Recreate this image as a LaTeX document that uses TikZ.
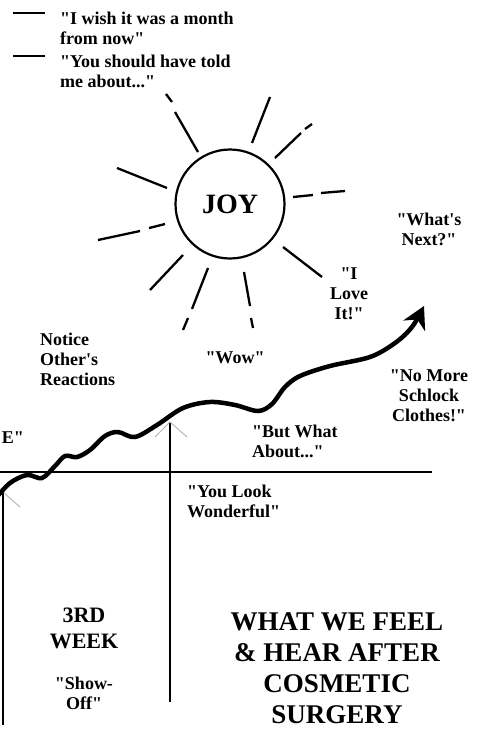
\documentclass[tikz,border=0pt]{standalone}
\usepackage{fontspec}
\setmainfont{Liberation Serif}[Ligatures=TeXOff]
\usetikzlibrary{arrows.meta, positioning, calc}
\tikzstyle{ray} = [line width=2.3pt]
\tikzstyle{saying} = [font=\bfseries\fontsize{18}{20}\selectfont, inner sep=0pt]

\begin{document}
\begin{tikzpicture}[x=1pt, y=-1pt,
    every node/.style={saying},
    leftq/.style={anchor=west, align=left},
    midq/.style={align=center},
    timeline/.style={line width=1.3pt},
    chevron/.style={gray!60, line width=0.9pt},
    sun/.style={circle, draw, line width=2.2pt, minimum size=109pt, font=\bfseries\fontsize{28}{30}\selectfont},
    wave/.style={line width=4.5pt, line cap=round},
    week/.style={align=center, font=\bfseries\fontsize{22}{26}\selectfont},
    title/.style={align=center, font=\bfseries\fontsize{27}{31}\selectfont}
  ]
    \useasboundingbox (0,0) rectangle (478,745);
    \clip (0,0) rectangle (478,745);

    % Sayings at the top
    \draw[line width=1.6pt] (13,13) -- (45,13);
    \draw[line width=1.6pt] (13,56) -- (45,56);
    \node[leftq] (wish) at (60,28) {"I wish it was a month\\from now"};
    \node[leftq] (told) at (60,71) {"You should have told\\me about..."};

    % Sun
    \node[sun] (joy) at (230,204) {JOY};
    \draw[ray] (198,152) -- (175,112) (172,102) -- (166,94);
    \draw[ray] (252,143) -- (270,97);
    \draw[ray] (275,158) -- (301,133) (305,129) -- (312,124);
    \draw[ray] (293,197) -- (313,195) (321,193) -- (345,191);
    \draw[ray] (117,168) -- (167,188);
    \draw[ray] (165,224) -- (149,228) (140,231) -- (98,240);
    \draw[ray] (183,255) -- (150,290);
    \draw[ray] (208,268) -- (192,309) (188,318) -- (183,330);
    \draw[ray] (244,272) -- (250,306) (251,318) -- (253,328);
    \draw[ray] (283,247) -- (322,277);

    % Sayings round the curve
    \node[midq] (next) at (429,229) {"What's\\Next?"};
    \node[midq] (love) at (349,294) {"I\\Love\\It!"};
    \node[leftq] (notice) at (40,359) {Notice\\Other's\\Reactions};
    \node (wow) at (235,358) {"Wow"};
    \node[midq] (clothes) at (429,396) {"No More\\Schlock\\Clothes!"};
    \node[leftq] (but) at (252,441) {"But What\\About..."};
    \node[anchor=east] (fine) at (24,438) {E"};
    \node[leftq] (look) at (187,501) {"You Look\\Wonderful"};

    % Time line and week marks
    \coordinate (wk3) at (3,492);
    \coordinate (wk4) at (170,422);
    \draw[timeline] (0,472) -- (432,472);
    \draw[timeline] (wk3) -- (3,725);
    \draw[timeline] (wk4) -- (170,702);
    \draw[chevron] ($(wk3)+(-17,15)$) -- (wk3) -- ($(wk3)+(17,15)$);
    \draw[chevron] ($(wk4)+(-15,15)$) -- (wk4) -- ($(wk4)+(17,15)$);

    % Feeling curve
    \draw[wave, -{Stealth[length=22pt, width=24pt, inset=7pt]}]
      plot[smooth, tension=0.55] coordinates {(-4,498) (10,483) (27,475) (42,478)
        (55,466) (65,456) (77,457) (90,450) (105,436) (118,432) (135,437)
        (157,425) (183,408) (210,402) (235,405) (258,411) (272,404) (285,387)
        (300,376) (330,366) (370,357) (395,343) (412,327) (424,306)};

    % Week and title
    \node[week] (third) at (84,628) {3RD\\WEEK};
    \node[midq] (show) at (84,693) {"Show-\\Off"};
    \node[title] (what) at (337,668) {WHAT WE FEEL\\\& HEAR AFTER\\COSMETIC\\SURGERY};
  \end{tikzpicture}
\end{document}
